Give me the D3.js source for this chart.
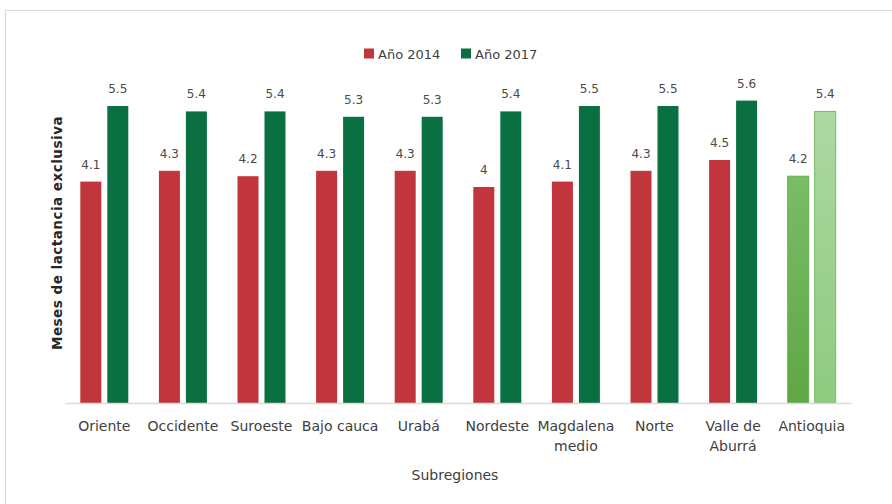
<!DOCTYPE html>
<html>
<head>
<meta charset="utf-8">
<script src="https://cdn.jsdelivr.net/npm/d3@7"></script>
<style>
  html, body { margin: 0; padding: 0; background: #fff; }
  svg { display: block; font-family: "DejaVu Sans", sans-serif; }
</style>
</head>
<body>
<svg id="chart" width="892" height="504"></svg>
<script>
// Subregions and months of exclusive breastfeeding per survey year
const categories = ["Oriente", "Occidente", "Suroeste", "Bajo cauca", "Urabá", "Nordeste", "Magdalena medio", "Norte", "Valle de Aburrá", "Antioquia"];
const categoryLines = [["Oriente"], ["Occidente"], ["Suroeste"], ["Bajo cauca"], ["Urabá"], ["Nordeste"], ["Magdalena", "medio"], ["Norte"], ["Valle de", "Aburrá"], ["Antioquia"]];
const seriesNames = ["Año 2014", "Año 2017"];
const values2014 = [4.1, 4.3, 4.2, 4.3, 4.3, 4, 4.1, 4.3, 4.5, 4.2];
const values2017 = [5.5, 5.4, 5.4, 5.3, 5.3, 5.4, 5.5, 5.5, 5.6, 5.4];
const yAxisTitle = "Meses de lactancia exclusiva";
const xAxisTitle = "Subregiones";

const seriesColors = ["#c0363c", "#0b7041"];
const totalName = "Antioquia";

const svg = d3.select("#chart");

// Chart frame
svg.append("path")
  .attr("d", "M5.5,520 V10.5 H892")
  .attr("fill", "none")
  .attr("stroke", "#d9d9d9")
  .attr("stroke-width", 1.2);

// Gradients for the department total bars
const defs = svg.append("defs");
const gradSpecs = [
  { id: "tot0", top: "#79bd67", bottom: "#5fa745" },
  { id: "tot1", top: "#acd8a2", bottom: "#8fca7f" }
];
gradSpecs.forEach(g => {
  const lg = defs.append("linearGradient").attr("id", g.id)
    .attr("x1", 0).attr("y1", 0).attr("x2", 0).attr("y2", 1);
  lg.append("stop").attr("offset", "0%").attr("stop-color", g.top);
  lg.append("stop").attr("offset", "100%").attr("stop-color", g.bottom);
});
const totalStroke = ["#66ad50", "#77bb66"];

const plot = { left: 65, right: 851, top: 79, bottom: 403 };

const x0 = d3.scaleBand().domain(categories).range([plot.left, plot.right]).paddingInner(0).paddingOuter(0);
const x1 = d3.scaleBand().domain([0, 1]).range([0, x0.bandwidth()]).paddingInner(0.222).paddingOuter(0.567);
const y = d3.scaleLinear().domain([0, 6]).range([plot.bottom, plot.top]);

const rows = categories.map((c, i) => ({ cat: c, vals: [values2014[i], values2017[i]] }));

const groups = svg.append("g").selectAll("g")
  .data(rows)
  .join("g")
  .attr("transform", d => `translate(${x0(d.cat)},0)`);

groups.selectAll("rect")
  .data(d => d.vals.map((v, s) => ({ v, s, cat: d.cat })))
  .join("rect")
  .attr("x", d => x1(d.s))
  .attr("y", d => y(d.v))
  .attr("width", x1.bandwidth())
  .attr("height", d => y(0) - y(d.v))
  .attr("fill", d => d.cat === totalName ? `url(#tot${d.s})` : seriesColors[d.s])
  .attr("stroke", d => d.cat === totalName ? totalStroke[d.s] : "none")
  .attr("stroke-width", 1);

// Value labels
groups.selectAll("text.val")
  .data(d => d.vals.map((v, s) => ({ v, s })))
  .join("text")
  .attr("class", "val")
  .attr("x", d => x1(d.s) + x1.bandwidth() / 2)
  .attr("y", d => y(d.v) - 13)
  .attr("text-anchor", "middle")
  .attr("font-size", 12)
  .attr("fill", "#4a4a4a")
  .text(d => d3.format("")(d.v));

// X axis
const xAxis = svg.append("g")
  .attr("transform", `translate(0,${plot.bottom})`)
  .call(d3.axisBottom(x0).tickSize(0).tickSizeOuter(0));
xAxis.select(".domain").attr("stroke", "#d9d9d9").attr("stroke-width", 1.5);
xAxis.selectAll(".tick text")
  .attr("font-size", 14)
  .attr("font-family", "DejaVu Sans, sans-serif")
  .attr("fill", "#404040")
  .attr("y", 28)
  .attr("dy", null)
  .each(function(d) {
    const lines = categoryLines[categories.indexOf(d)];
    const t = d3.select(this).text(null);
    lines.forEach((ln, i) => {
      t.append("tspan").attr("x", 0).attr("dy", i === 0 ? 0 : 20).text(ln);
    });
  });

// Axis titles
svg.append("text")
  .attr("x", 455)
  .attr("y", 480)
  .attr("text-anchor", "middle")
  .attr("font-size", 14)
  .attr("fill", "#404040")
  .text(xAxisTitle);

svg.append("text")
  .attr("transform", "translate(62,233) rotate(-90)")
  .attr("text-anchor", "middle")
  .attr("font-size", 13.5)
  .attr("letter-spacing", 0.5)
  .attr("font-weight", "bold")
  .attr("fill", "#262626")
  .text(yAxisTitle);

// Legend
const legend = svg.append("g");
const legendItems = [{ x: 364, name: seriesNames[0], c: seriesColors[0] }, { x: 461, name: seriesNames[1], c: seriesColors[1] }];
legendItems.forEach(it => {
  legend.append("rect").attr("x", it.x).attr("y", 48.5).attr("width", 10).attr("height", 10).attr("fill", it.c);
  legend.append("text").attr("x", it.x + 14).attr("y", 58.5)
    .attr("font-size", 13).attr("fill", "#404040").text(it.name);
});
</script>
</body>
</html>
